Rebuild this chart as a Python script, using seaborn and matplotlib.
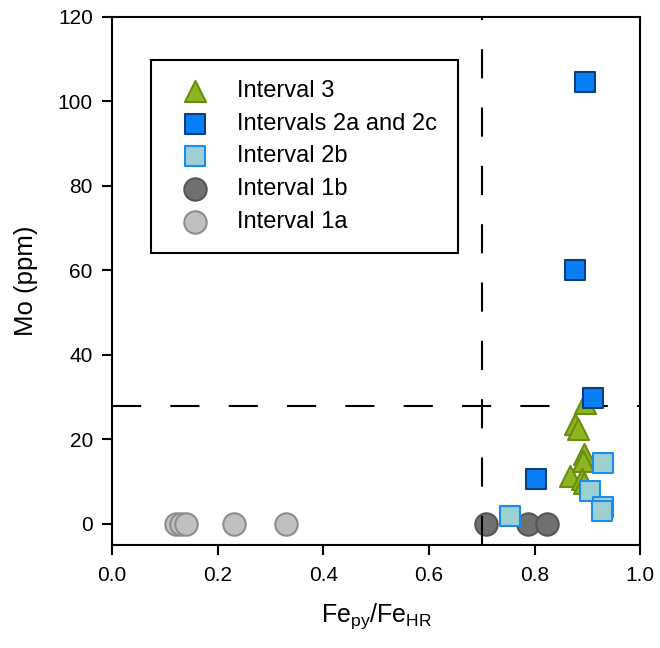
import pandas as pd
import matplotlib
matplotlib.use("Agg")
import matplotlib.pyplot as plt
import seaborn as sns

# Fe_py/Fe_HR vs Mo values
int3_x = [0.895, 0.877, 0.883, 0.893, 0.891, 0.867, 0.889, 0.893]
int3_y = [28.5, 23.6, 22.5, 16.5, 14.9, 11.4, 10.5, 9.7]

int2ac_x = [0.896, 0.877, 0.910, 0.802]
int2ac_y = [104.5, 60.0, 29.8, 10.5]

int2b_x = [0.929, 0.904, 0.929, 0.927, 0.753]
int2b_y = [14.3, 7.8, 3.9, 3.0, 1.8]

int1b_x = [0.708, 0.788, 0.824]
int1b_y = [0.0, 0.0, 0.0]

int1a_x = [0.12, 0.13, 0.14, 0.23, 0.33]
int1a_y = [0.0, 0.0, 0.0, 0.0, 0.0]

groups = ["Interval 3", "Intervals 2a and 2c", "Interval 2b",
          "Interval 1b", "Interval 1a"]
xs = [int3_x, int2ac_x, int2b_x, int1b_x, int1a_x]
ys = [int3_y, int2ac_y, int2b_y, int1b_y, int1a_y]

df = pd.concat(
    [pd.DataFrame({"fe": x, "mo": y, "group": g}) for g, x, y in zip(groups, xs, ys)],
    ignore_index=True,
)

styles = {
    "Interval 3": dict(marker="^", color="#8db51e", edgecolor="#6a8c12", s=230),
    "Intervals 2a and 2c": dict(marker="s", color="#0a7ff5", edgecolor="#0b3f80", s=190),
    "Interval 2b": dict(marker="s", color="#9ecfd3", edgecolor="#1a8cf0", s=190),
    "Interval 1b": dict(marker="o", color="#707070", edgecolor="#555555", s=260),
    "Interval 1a": dict(marker="o", color="#c0c0c0", edgecolor="#8c8c8c", s=260),
}

sns.set_style("ticks")
plt.rcParams["font.family"] = ["Liberation Sans", "DejaVu Sans"]
plt.rcParams["mathtext.default"] = "regular"
plt.rcParams["text.color"] = "black"
plt.rcParams["axes.labelcolor"] = "black"

fig = plt.figure(figsize=(6.6, 6.48), dpi=100)
ax = fig.add_axes([0.170, 0.159, 0.800, 0.815])

# draw back-to-front so the order matches the original
for g in ["Interval 1a", "Interval 1b", "Interval 3", "Interval 2b", "Intervals 2a and 2c"]:
    st = styles[g]
    sns.scatterplot(data=df[df["group"] == g], x="fe", y="mo", ax=ax,
                    marker=st["marker"], color=st["color"], edgecolor=st["edgecolor"],
                    s=st["s"], linewidth=1.5, label=g, zorder=3)

ax.axvline(0.7, color="black", lw=1.5, dashes=(14, 14), zorder=4)
ax.axhline(28, color="black", lw=1.5, dashes=(14, 14), zorder=2)

ax.set_xlim(0, 1.0)
ax.set_ylim(-5, 120)
ax.set_xticks([0.0, 0.2, 0.4, 0.6, 0.8, 1.0])
ax.set_xticklabels(["0.0", "0.2", "0.4", "0.6", "0.8", "1.0"])
ax.set_yticks([0, 20, 40, 60, 80, 100, 120])
ax.tick_params(direction="out", length=7, width=1.5, labelsize=15, colors="black")
ax.tick_params(axis="x", pad=8)
ax.tick_params(axis="y", pad=7)
for sp in ax.spines.values():
    sp.set_linewidth(1.5)
    sp.set_color("black")
    sp.set_visible(True)

ax.set_xlabel("Fe$_{py}$/Fe$_{HR}$", fontsize=18, labelpad=12)
ax.set_ylabel("Mo (ppm)", fontsize=18.5, labelpad=14)

handles, labels = ax.get_legend_handles_labels()
order = [labels.index(g) for g in groups]
leg = ax.legend([handles[i] for i in order], [labels[i] for i in order],
                loc="upper left", bbox_to_anchor=(0.074, 0.918), fontsize=17,
                frameon=True, fancybox=False, edgecolor="black", framealpha=1,
                borderpad=0.85, labelspacing=0.45, handletextpad=0.8,
                handlelength=2.0, borderaxespad=0, markerscale=1.0)
leg.get_frame().set_linewidth(1.5)
for t in leg.get_texts():
    t.set_color("black")

fig.savefig("out.png", dpi=100)
